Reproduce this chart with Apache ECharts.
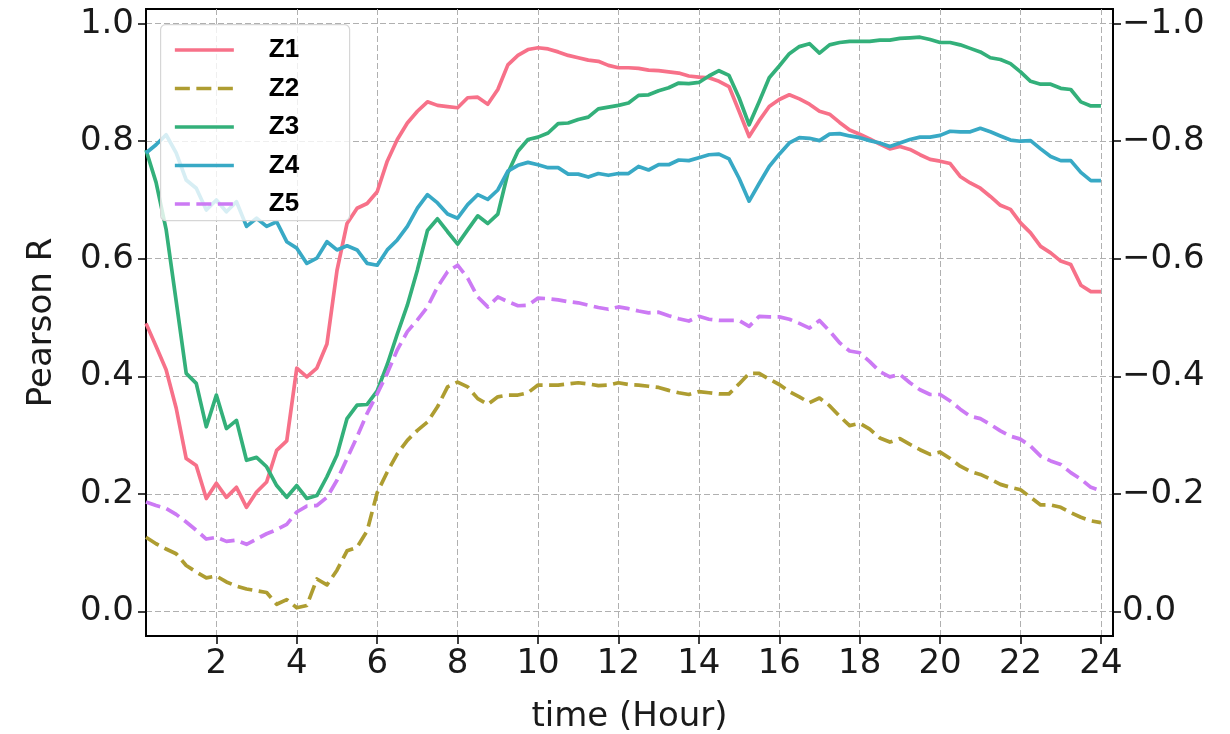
<!DOCTYPE html>
<html><head><meta charset="utf-8">
<script src="https://cdn.jsdelivr.net/npm/echarts@6/dist/echarts.min.js"></script>
<style>html,body{margin:0;padding:0;background:#fff}#c{width:1230px;height:734px}</style>
</head><body><div id="c"></div>
<script>
const hours = [0.25,0.5,0.75,1,1.25,1.5,1.75,2,2.25,2.5,2.75,3,3.25,3.5,3.75,4,4.25,4.5,4.75,5,5.25,5.5,5.75,6,
  6.25,6.5,6.75,7,7.25,7.5,7.75,8,8.25,8.5,8.75,9,9.25,9.5,9.75,10,10.25,10.5,10.75,11,11.25,11.5,11.75,12,
  12.25,12.5,12.75,13,13.25,13.5,13.75,14,14.25,14.5,14.75,15,15.25,15.5,15.75,16,16.25,16.5,16.75,17,17.25,17.5,17.75,18,
  18.25,18.5,18.75,19,19.25,19.5,19.75,20,20.25,20.5,20.75,21,21.25,21.5,21.75,22,22.25,22.5,22.75,23,23.25,23.5,23.75,24];

const z1 = [0.490,0.451,0.411,0.346,0.260,0.248,0.192,0.218,0.194,0.211,0.177,0.203,0.220,0.274,0.290,0.414,0.399,0.414,0.455,0.580,0.660,0.686,0.694,0.714,
  0.766,0.803,0.831,0.851,0.867,0.861,0.859,0.857,0.874,0.875,0.863,0.888,0.930,0.946,0.956,0.959,0.957,0.952,0.946,0.942,0.938,0.936,0.929,0.925,
  0.925,0.924,0.921,0.920,0.918,0.916,0.911,0.909,0.908,0.902,0.893,0.851,0.808,0.835,0.859,0.871,0.879,0.872,0.863,0.851,0.846,0.832,0.819,0.812,
  0.804,0.795,0.787,0.791,0.786,0.777,0.769,0.766,0.762,0.740,0.729,0.720,0.706,0.691,0.684,0.661,0.644,0.621,0.610,0.596,0.590,0.555,0.544,0.544];

const z2 = [0.126,0.115,0.106,0.098,0.078,0.067,0.057,0.060,0.050,0.043,0.038,0.035,0.032,0.012,0.020,0.006,0.010,0.055,0.045,0.070,0.103,0.109,0.137,0.202,
  0.237,0.268,0.291,0.308,0.322,0.348,0.382,0.390,0.382,0.362,0.352,0.365,0.368,0.368,0.372,0.385,0.385,0.385,0.387,0.389,0.387,0.384,0.385,0.389,
  0.386,0.385,0.383,0.381,0.376,0.372,0.369,0.374,0.372,0.370,0.370,0.387,0.405,0.405,0.395,0.386,0.374,0.365,0.355,0.363,0.350,0.332,0.316,0.320,
  0.310,0.295,0.288,0.294,0.284,0.275,0.267,0.271,0.260,0.247,0.238,0.233,0.225,0.216,0.211,0.207,0.194,0.181,0.181,0.177,0.168,0.160,0.154,0.151];

const z3 = [0.785,0.730,0.650,0.528,0.405,0.388,0.314,0.368,0.311,0.325,0.257,0.262,0.246,0.214,0.194,0.214,0.192,0.197,0.229,0.266,0.328,0.351,0.352,0.375,
  0.420,0.472,0.521,0.581,0.648,0.668,0.646,0.625,0.649,0.673,0.660,0.676,0.746,0.783,0.803,0.807,0.814,0.830,0.831,0.837,0.841,0.855,0.858,0.861,
  0.865,0.878,0.879,0.886,0.891,0.899,0.898,0.900,0.911,0.920,0.912,0.874,0.828,0.867,0.908,0.928,0.949,0.961,0.966,0.950,0.964,0.968,0.970,0.970,
  0.970,0.972,0.972,0.975,0.976,0.977,0.973,0.968,0.968,0.964,0.958,0.952,0.942,0.939,0.932,0.918,0.902,0.897,0.897,0.890,0.888,0.867,0.860,0.860];

const z4 = [0.780,0.794,0.811,0.780,0.734,0.720,0.683,0.700,0.680,0.697,0.655,0.669,0.655,0.663,0.629,0.618,0.592,0.601,0.629,0.615,0.622,0.615,0.592,0.589,
  0.615,0.632,0.655,0.686,0.709,0.695,0.676,0.669,0.692,0.709,0.701,0.717,0.749,0.759,0.764,0.760,0.755,0.755,0.744,0.744,0.739,0.745,0.742,0.745,
  0.745,0.757,0.751,0.760,0.760,0.768,0.767,0.772,0.777,0.778,0.770,0.737,0.698,0.728,0.757,0.778,0.797,0.806,0.805,0.801,0.812,0.813,0.809,0.806,
  0.801,0.797,0.791,0.797,0.803,0.807,0.807,0.810,0.817,0.816,0.816,0.822,0.816,0.809,0.802,0.800,0.801,0.787,0.774,0.767,0.767,0.747,0.733,0.733];

const z5 = [0.186,0.180,0.175,0.165,0.152,0.138,0.123,0.126,0.119,0.121,0.114,0.123,0.132,0.139,0.148,0.169,0.179,0.180,0.194,0.223,0.260,0.297,0.337,0.370,
  0.405,0.445,0.476,0.496,0.518,0.552,0.578,0.589,0.567,0.535,0.518,0.535,0.527,0.520,0.521,0.533,0.532,0.530,0.527,0.525,0.521,0.517,0.514,0.518,
  0.515,0.511,0.508,0.509,0.503,0.498,0.494,0.502,0.497,0.495,0.495,0.495,0.485,0.502,0.501,0.501,0.497,0.490,0.482,0.495,0.477,0.457,0.443,0.440,
  0.425,0.408,0.399,0.403,0.389,0.377,0.369,0.369,0.358,0.344,0.332,0.328,0.318,0.307,0.298,0.293,0.281,0.264,0.256,0.250,0.236,0.225,0.211,0.205];

const seriesNames = ['Z1','Z2','Z3','Z4','Z5'];
const seriesValues = [z1, z2, z3, z4, z5];
const seriesColors = ['#f77189','#ae9d31','#33b07a','#38a9c5','#cc7af4'];
const seriesDashed = [false, true, false, false, true];

const xTicks = [2,4,6,8,10,12,14,16,18,20,22,24];
const yTicks = [0,0.2,0.4,0.6,0.8,1.0];
const yTicksRight = [-1.0,-0.8,-0.6,-0.4,-0.2,0];

const FONT = 'DejaVu Sans';
const chart = echarts.init(document.getElementById('c'), null, {renderer: 'canvas'});

const series = seriesNames.map((name, i) => ({
  name: name,
  type: 'line',
  xAxisIndex: 0,
  yAxisIndex: 0,
  symbol: 'none',
  showSymbol: false,
  animation: false,
  z: 3,
  data: hours.map((h, k) => [h, seriesValues[i][k]]),
  lineStyle: {
    color: seriesColors[i],
    width: 3.7,
    type: seriesDashed[i] ? [15, 6.5] : 'solid',
    cap: 'butt',
    join: 'round'
  },
  itemStyle: {color: seriesColors[i]}
}));

const option = {
  animation: false,
  backgroundColor: '#ffffff',
  grid: {
    left: 146, top: 9, right: 117, bottom: 98,
    outerBoundsMode: 'none',
    containLabel: false,
    show: true, borderColor: '#000', borderWidth: 1.8, backgroundColor: 'transparent'
  },
  xAxis: [{
    type: 'value',
    min: 0.25, max: 24.3,
    name: 'time (Hour)',
    nameLocation: 'middle',
    nameGap: 64,
    nameTextStyle: {fontFamily: FONT, fontSize: 34, color: '#1a1a1a'},
    axisLine: {show: true, onZero: false, lineStyle: {color: '#000', width: 1.8}},
    axisTick: {show: true, inside: false, length: 8, customValues: xTicks, lineStyle: {color: '#000', width: 1.5}},
    axisLabel: {customValues: xTicks, fontFamily: FONT, fontSize: 34, color: '#1a1a1a', margin: 11,
      formatter: v => String(Math.round(v))},
    splitLine: {show: true, lineStyle: {color: '#b0b0b0', width: 1, type: [6, 3]}}
  }],
  yAxis: [{
    type: 'value',
    position: 'left',
    min: -0.042, max: 1.025,
    name: 'Pearson R',
    nameLocation: 'middle',
    nameGap: 87,
    nameTextStyle: {fontFamily: FONT, fontSize: 34, color: '#1a1a1a'},
    axisLine: {show: true, onZero: false, lineStyle: {color: '#000', width: 1.8}},
    axisTick: {show: true, length: 8, customValues: yTicks, lineStyle: {color: '#000', width: 1.5}},
    axisLabel: {customValues: yTicks, fontFamily: FONT, fontSize: 34, color: '#1a1a1a', margin: 12,
      formatter: v => v.toFixed(1)},
    splitLine: {show: true, lineStyle: {color: '#b0b0b0', width: 1, type: [6, 3]}}
  }, {
    type: 'value',
    position: 'right',
    inverse: true,
    min: -1.025, max: 0.042,
    axisLine: {show: true, onZero: false, lineStyle: {color: '#000', width: 1.8}},
    axisTick: {show: true, length: 8, customValues: yTicksRight, lineStyle: {color: '#000', width: 1.5}},
    axisLabel: {customValues: yTicksRight, fontFamily: FONT, fontSize: 34, color: '#1a1a1a', margin: 9,
      formatter: v => (Math.abs(v) < 1e-9 ? '0.0' : (v < 0 ? '\u2212' : '') + Math.abs(v).toFixed(1))},
    splitLine: {show: false}
  }],
  legend: {
    show: true,
    orient: 'vertical',
    left: 168,
    top: 32,
    z: 20,
    itemWidth: 59,
    itemHeight: 14,
    itemGap: 12.5,
    data: seriesNames,
    itemStyle: {opacity: 0},
    lineStyle: {width: 3.7},
    textStyle: {fontFamily: 'Liberation Sans', fontWeight: 'bold', fontSize: 26, color: '#000',
      lineHeight: 26, padding: [0, 0, 0, 30]},
    inactiveColor: '#ccc'
  },
  graphic: [{
    type: 'rect',
    left: 160, top: 24, z: 15,
    shape: {width: 189, height: 196, r: 5},
    style: {fill: 'rgba(255,255,255,0.8)', stroke: '#d6d6d6', lineWidth: 1.2}
  }],
  series: series
};
chart.setOption(option);
</script>
</body></html>
